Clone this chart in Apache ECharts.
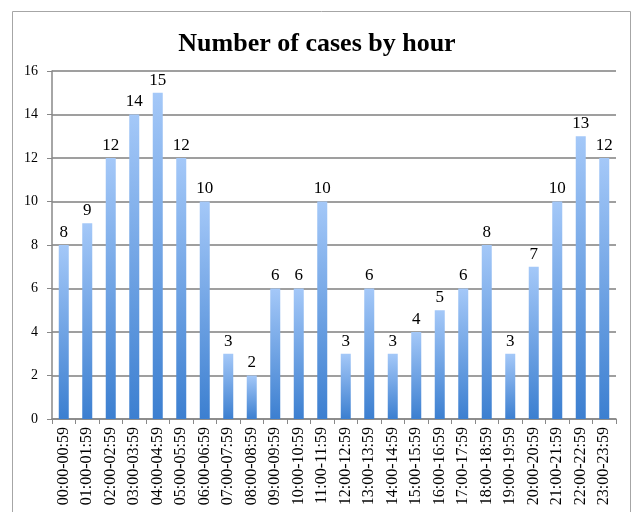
<!DOCTYPE html>
<html>
<head>
<meta charset="utf-8">
<script src="https://cdn.jsdelivr.net/npm/echarts@6/dist/echarts.min.js"></script>
<style>
  html, body { margin: 0; padding: 0; background: #fff; }
  #chart { width: 634px; height: 512px; }
</style>
</head>
<body>
<div id="chart"></div>
<script>
const hours = [
  '00:00-00:59', '01:00-01:59', '02:00-02:59', '03:00-03:59', '04:00-04:59', '05:00-05:59',
  '06:00-06:59', '07:00-07:59', '08:00-08:59', '09:00-09:59', '10:00-10:59', '11:00-11:59',
  '12:00-12:59', '13:00-13:59', '14:00-14:59', '15:00-15:59', '16:00-16:59', '17:00-17:59',
  '18:00-18:59', '19:00-19:59', '20:00-20:59', '21:00-21:59', '22:00-22:59', '23:00-23:59'
]
const cases = [8, 9, 12, 14, 15, 12, 10, 3, 2, 6, 6, 10, 3, 6, 3, 4, 5, 6, 8, 3, 7, 10, 13, 12]

const serif = '"Liberation Serif", "DejaVu Serif", serif'

const chart = echarts.init(document.getElementById('chart'))
chart.setOption({
  animation: false,
  title: {
    text: 'Number of cases by hour',
    left: 'center',
    top: 26,
    textStyle: { fontFamily: serif, fontWeight: 'bold', fontSize: 26, color: '#000' }
  },
  // outer chart frame
  graphic: [{
    type: 'rect',
    shape: { x: 12.5, y: 11.5, width: 618, height: 520 },
    style: { fill: 'none', stroke: '#a6a6a6', lineWidth: 1 },
    silent: true
  }],
  grid: { left: 52, right: 18, top: 71, bottom: 93 },
  xAxis: {
    type: 'category',
    data: hours,
    axisLine: { lineStyle: { color: '#888', width: 1.5 } },
    axisTick: { show: true, length: 5, lineStyle: { color: '#888' } },
    axisLabel: { rotate: 90, interval: 0, fontFamily: serif, fontSize: 16, color: '#000', margin: 8 }
  },
  yAxis: {
    type: 'value',
    min: 0,
    max: 16,
    interval: 2,
    axisLine: { show: true, lineStyle: { color: '#888', width: 1.5 } },
    axisTick: { show: true, length: 5, lineStyle: { color: '#888' } },
    axisLabel: { fontFamily: serif, fontSize: 14, color: '#000', margin: 14 },
    splitLine: { lineStyle: { color: '#7f7f7f', width: 1.5 } }
  },
  series: [{
    type: 'bar',
    data: cases,
    barWidth: 10,
    itemStyle: {
      color: new echarts.graphic.LinearGradient(0, 0, 0, 1, [
        { offset: 0, color: '#a4c8f8' },
        { offset: 1, color: '#3c7fd0' }
      ])
    },
    label: {
      show: true,
      position: 'top',
      distance: 4,
      fontFamily: serif,
      fontSize: 17,
      color: '#000'
    }
  }]
})
</script>
</body>
</html>
